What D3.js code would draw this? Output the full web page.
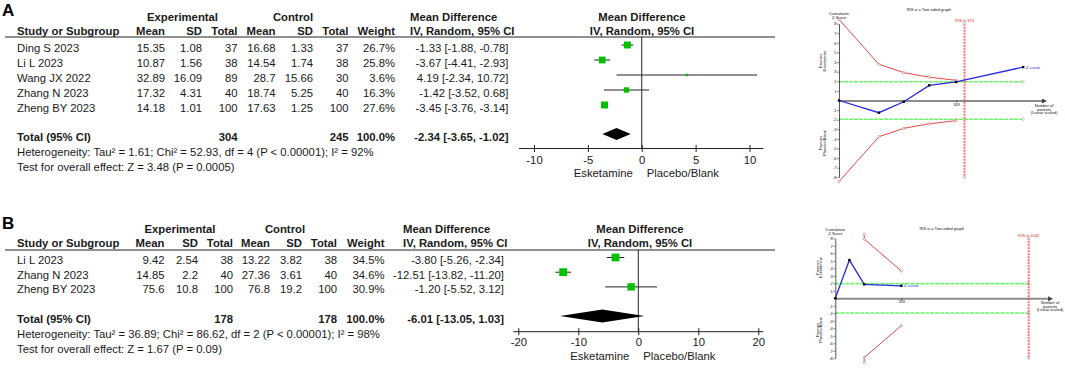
<!DOCTYPE html>
<html>
<head>
<meta charset="utf-8">
<script src="https://cdn.jsdelivr.net/npm/d3@7"></script>
<style>
  body { margin: 0; background: #fff; }
  svg { display: block; font-family: "Liberation Sans", Arial, sans-serif; }
  .forest text { font-size: 11.3px; fill: #1a1a1a; }
  .forest .bold { font-weight: bold; }
  .forest .panel-label { font-size: 17px; fill: #000; }
  .tsa text { font-size: 4px; fill: #111; }
</style>
</head>
<body>
<svg id="chart" width="1065" height="368"></svg>
<script>
// ---------- panel A: forest plot data ----------
const studiesA = ["Ding S 2023", "Li L 2023", "Wang JX 2022", "Zhang N 2023", "Zheng BY 2023"];
const expMeanA = [15.35, 10.87, 32.89, 17.32, 14.18];
const expSdA = [1.08, 1.56, 16.09, 4.31, 1.01];
const expNA = [37, 38, 89, 40, 100];
const ctlMeanA = [16.68, 14.54, 28.7, 18.74, 17.63];
const ctlSdA = [1.33, 1.74, 15.66, 5.25, 1.25];
const ctlNA = [37, 38, 30, 40, 100];
const weightA = [26.7, 25.8, 3.6, 16.3, 27.6];
const mdA = [-1.33, -3.67, 4.19, -1.42, -3.45];
const loA = [-1.88, -4.41, -2.34, -3.52, -3.76];
const hiA = [-0.78, -2.93, 10.72, 0.68, -3.14];
const totalA = [304, 245, 100, -2.34, -3.65, -1.02];
const hetA = "Heterogeneity: Tau² = 1.61; Chi² = 52.93, df = 4 (P < 0.00001); I² = 92%";
const testA = "Test for overall effect: Z = 3.48 (P = 0.0005)";
const ticksA = [-10, -5, 0, 5, 10];

// ---------- panel B: forest plot data ----------
const studiesB = ["Li L 2023", "Zhang N 2023", "Zheng BY 2023"];
const expMeanB = [9.42, 14.85, 75.6];
const expSdB = [2.54, 2.2, 10.8];
const expNB = [38, 40, 100];
const ctlMeanB = [13.22, 27.36, 76.8];
const ctlSdB = [3.82, 3.61, 19.2];
const ctlNB = [38, 40, 100];
const weightB = [34.5, 34.6, 30.9];
const mdB = [-3.80, -12.51, -1.20];
const loB = [-5.26, -13.82, -5.52];
const hiB = [-2.34, -11.20, 3.12];
const totalB = [178, 178, 100, -6.01, -13.05, 1.03];
const hetB = "Heterogeneity: Tau² = 36.89; Chi² = 86.62, df = 2 (P < 0.00001); I² = 98%";
const testB = "Test for overall effect: Z = 1.67 (P = 0.09)";
const ticksB = [-20, -10, 0, 10, 20];

// ---------- trial sequential analysis data ----------
const tsaNA = [0, 119, 193, 269, 349, 549];
const tsaZA = [0, -1.27, -0.13, 1.58, 1.93, 3.48];
const boundNA = [0, 119, 193, 269, 349];
const boundUpA = [8.45, 3.77, 2.9, 2.43, 2.1];
const boundLowA = [-8.45, -3.77, -2.9, -2.43, -2.1];
const risA = 374;
const axisTickA = [349];

const tsaNB = [0, 76, 156, 356];
const tsaZB = [0, 5.1, 1.87, 1.67];
const boundNB = [156, 156, 356];
const boundUpB = [8.53, 7.9, 3.64];
const boundLowB = [-8.53, -7.9, -3.64];
const risB = 1042;
const axisTickB = [356];

const zConventional = 1.96;
const zTicks = [-8, -7, -6, -5, -4, -3, -2, -1, 1, 2, 3, 4, 5, 6, 7, 8];

const locale = d3.formatLocale({decimal: ".", thousands: ",", grouping: [3], currency: ["", ""], minus: "-"});
const f2 = locale.format(".2f");
const f1 = locale.format(".1f");
const fInt = locale.format("d");

class ForestPlot {

  constructor(_config, _data) {
    this.config = _config;
    this.data = _data;
    this.initVis();
  }

  initVis() {
    let vis = this;
    const c = vis.config;

    vis.g = d3.select(c.parentElement).append('g').attr('class', 'forest');

    vis.xScale = d3.scaleLinear()
      .domain(c.xDomain)
      .range(c.xRange);

    // square size follows study weight
    vis.sizeScale = d3.scaleSqrt()
      .domain([0, 100])
      .range([0, 13.3]);

    vis.xAxis = d3.axisBottom(vis.xScale)
      .tickValues(c.ticks)
      .tickFormat(fInt)
      .tickSizeOuter(0);

    vis.rows = vis.data.studies.map((s, i) => ({
      study: s,
      cells: [vis.data.expMean[i], vis.data.expSd[i], vis.data.expN[i],
              vis.data.ctlMean[i], vis.data.ctlSd[i], vis.data.ctlN[i],
              f1(vis.data.weight[i]) + '%'],
      md: vis.data.md[i], lo: vis.data.lo[i], hi: vis.data.hi[i],
      w: vis.data.weight[i],
      y: c.rowY + i * c.rowStep
    }));

    vis.renderVis();
  }

  renderVis() {
    let vis = this;
    const c = vis.config;
    const g = vis.g;
    const x = vis.xScale;

    g.append('text').attr('class', 'panel-label bold')
      .attr('x', 2).attr('y', c.labelY).text(c.label);

    // group headers
    g.append('text').attr('class', 'bold').attr('text-anchor', 'middle')
      .attr('x', c.expX).attr('y', c.groupY).text('Experimental');
    g.append('text').attr('class', 'bold').attr('text-anchor', 'middle')
      .attr('x', c.ctlX).attr('y', c.groupY).text('Control');
    g.append('text').attr('class', 'bold')
      .attr('x', c.mdX).attr('y', c.groupY).text('Mean Difference');
    g.append('text').attr('class', 'bold').attr('text-anchor', 'middle')
      .attr('x', c.plotHeadX).attr('y', c.groupY).text('Mean Difference');

    // column headers
    g.append('text').attr('class', 'bold')
      .attr('x', 17).attr('y', c.headY).text('Study or Subgroup');
    g.selectAll('.col-head')
      .data(['Mean', 'SD', 'Total', 'Mean', 'SD', 'Total', 'Weight'])
      .join('text')
      .attr('class', 'col-head bold')
      .attr('text-anchor', 'end')
      .attr('x', (d, i) => c.cols[i])
      .attr('y', c.headY)
      .text(d => d);
    g.append('text').attr('class', 'bold')
      .attr('x', c.mdX).attr('y', c.headY).text('IV, Random, 95% CI');
    g.append('text').attr('class', 'bold').attr('text-anchor', 'middle')
      .attr('x', c.plotHeadX).attr('y', c.headY).text('IV, Random, 95% CI');

    g.append('line')
      .attr('x1', 5).attr('x2', 775)
      .attr('y1', c.ruleY).attr('y2', c.ruleY)
      .attr('stroke', '#222').attr('stroke-width', 1);

    // study rows
    const row = g.selectAll('.row')
      .data(vis.rows)
      .join('g')
      .attr('class', 'row');

    row.append('text')
      .attr('x', 17).attr('y', d => d.y).text(d => d.study);

    row.selectAll('.cell')
      .data(d => d.cells.map((v, i) => ({v, i, y: d.y})))
      .join('text')
      .attr('class', 'cell')
      .attr('text-anchor', 'end')
      .attr('x', d => c.cols[d.i])
      .attr('y', d => d.y)
      .text(d => d.v);

    row.append('text')
      .attr('text-anchor', 'end')
      .attr('x', c.mdRight).attr('y', d => d.y)
      .text(d => `${f2(d.md)} [${f2(d.lo)}, ${f2(d.hi)}]`);

    // total row
    const t = vis.data.total;
    g.append('text').attr('class', 'bold')
      .attr('x', 17).attr('y', c.totalY).text('Total (95% CI)');
    [[2, t[0]], [5, t[1]], [6, f1(t[2]) + '%']].forEach(([ci, v]) => {
      g.append('text').attr('class', 'bold').attr('text-anchor', 'end')
        .attr('x', c.cols[ci]).attr('y', c.totalY).text(v);
    });
    g.append('text').attr('class', 'bold').attr('text-anchor', 'end')
      .attr('x', c.mdRight).attr('y', c.totalY)
      .text(`${f2(t[3])} [${f2(t[4])}, ${f2(t[5])}]`);

    g.append('text').attr('x', 17).attr('y', c.hetY).text(vis.data.het);
    g.append('text').attr('x', 17).attr('y', c.testY).text(vis.data.test);

    // plot area: zero line
    g.append('line')
      .attr('x1', x(0)).attr('x2', x(0))
      .attr('y1', c.ruleY).attr('y2', c.axisY)
      .attr('stroke', '#222').attr('stroke-width', 1);

    // confidence intervals
    g.selectAll('.ci')
      .data(vis.rows)
      .join('line')
      .attr('class', 'ci')
      .attr('x1', d => x(d.lo)).attr('x2', d => x(d.hi))
      .attr('y1', d => d.y + c.markDy).attr('y2', d => d.y + c.markDy)
      .attr('stroke', '#222').attr('stroke-width', 1);

    g.selectAll('.sq')
      .data(vis.rows)
      .join('rect')
      .attr('class', 'sq')
      .attr('x', d => x(d.md) - vis.sizeScale(d.w) / 2)
      .attr('y', d => d.y + c.markDy - vis.sizeScale(d.w) / 2)
      .attr('width', d => vis.sizeScale(d.w))
      .attr('height', d => vis.sizeScale(d.w))
      .attr('fill', '#00c000');

    // pooled diamond
    const dy = c.totalY + c.markDy;
    const h = c.diamondH / 2;
    g.append('path')
      .attr('d', `M${x(t[4])},${dy}L${x(t[3])},${dy - h}L${x(t[5])},${dy}L${x(t[3])},${dy + h}Z`)
      .attr('fill', '#000');

    // axis
    const axisG = g.append('g')
      .attr('transform', `translate(0,${c.axisY})`)
      .call(vis.xAxis);
    axisG.select('.domain').remove();
    axisG.selectAll('.tick line')
      .attr('y1', -3.5).attr('y2', 3.5).attr('stroke', '#222');
    axisG.selectAll('.tick text')
      .attr('y', c.tickLabelY - c.axisY).attr('dy', 0)
      .style('font-size', '11.3px').style('font-family', 'inherit').attr('fill', '#1a1a1a');
    axisG.append('line')
      .attr('x1', x.range()[0] - c.axisPad[0]).attr('x2', x.range()[1] + c.axisPad[1])
      .attr('stroke', '#222').attr('stroke-width', 1);

    g.append('text').attr('text-anchor', 'end')
      .attr('x', x(0) - 9).attr('y', c.sideY).text('Esketamine');
    g.append('text')
      .attr('x', x(0) + 5).attr('y', c.sideY).text('Placebo/Blank');
  }
}

class TsaGraph {

  constructor(_config, _data) {
    this.config = _config;
    this.data = _data;
    this.initVis();
  }

  initVis() {
    let vis = this;
    const c = vis.config;

    vis.g = d3.select(c.parentElement).append('g').attr('class', 'tsa');

    vis.xScale = d3.scaleLinear()
      .domain([0, c.xMax])
      .range(c.xRange);

    vis.yScale = d3.scaleLinear()
      .domain([-8, 8])
      .range(c.yRange);

    vis.yAxis = d3.axisLeft(vis.yScale)
      .tickValues(zTicks)
      .tickFormat(fInt)
      .tickSize(2)
      .tickSizeOuter(0);

    vis.xAxis = d3.axisBottom(vis.xScale)
      .tickValues(vis.data.axisTick)
      .tickSize(2)
      .tickSizeOuter(0);

    vis.renderVis();
  }

  renderVis() {
    let vis = this;
    const c = vis.config;
    const d = vis.data;
    const g = vis.g;
    const x = vis.xScale, y = vis.yScale;
    const xEnd = x.range()[1];

    g.append('text').attr('text-anchor', 'middle')
      .attr('x', c.titleX).attr('y', c.titleY).text('RIS is a Two-sided graph');
    g.append('text').attr('text-anchor', 'middle')
      .attr('x', x(0)).attr('y', c.cumY).text('Cumulative');
    g.append('text').attr('text-anchor', 'middle')
      .attr('x', x(0)).attr('y', c.cumY + 3.6).text('Z-Score');

    // rotated side labels
    [['Favours', 'Esketamine', c.favUpY], ['Favours', 'Placebo/Blank', c.favLowY]].forEach(([a, b, cy]) => {
      g.append('text').attr('text-anchor', 'middle')
        .attr('transform', `translate(${x(0) - 16.8},${cy}) rotate(-90)`).text(a);
      g.append('text').attr('text-anchor', 'middle')
        .attr('transform', `translate(${x(0) - 13.2},${cy}) rotate(-90)`).text(b);
    });

    // conventional boundaries
    [zConventional, -zConventional].forEach(z => {
      g.append('line')
        .attr('x1', x(0)).attr('x2', x(d.greenEnd))
        .attr('y1', y(z)).attr('y2', y(z))
        .attr('stroke', '#6af56a').attr('stroke-width', 1.6)
        .attr('stroke-dasharray', '4,1');
      g.append('circle')
        .attr('cx', x(d.greenEnd)).attr('cy', y(z)).attr('r', 1.2)
        .attr('fill', '#fff').attr('stroke', '#999').attr('stroke-width', 0.5);
    });

    // x axis (number of patients)
    const xAxisG = g.append('g')
      .attr('transform', `translate(0,${y(0)})`)
      .call(vis.xAxis);
    xAxisG.select('.domain')
      .attr('stroke', '#8c8c8c').attr('stroke-width', 2)
      .attr('marker-end', 'url(#arrow)');
    xAxisG.selectAll('.tick line').attr('stroke', '#111').attr('stroke-width', 0.6);
    xAxisG.selectAll('.tick text')
      .attr('y', 2.2).attr('dy', '0.71em')
      .style('font-size', '4px').style('font-family', 'inherit').attr('fill', '#111');

    g.append('text').attr('text-anchor', 'middle')
      .attr('x', xEnd).attr('y', c.nY).text('Number of');
    g.append('text').attr('text-anchor', 'middle')
      .attr('x', xEnd).attr('y', c.nY + 3.8).text('patients');
    g.append('text').attr('text-anchor', 'middle')
      .attr('x', xEnd).attr('y', c.nY + 7.6).text('(Linear scaled)');

    // y axis
    const yAxisG = g.append('g')
      .attr('transform', `translate(${x(0)},0)`)
      .call(vis.yAxis);
    yAxisG.select('.domain').attr('stroke', '#111').attr('stroke-width', 0.7);
    yAxisG.selectAll('.tick line').attr('stroke', '#111').attr('stroke-width', 0.5);
    yAxisG.selectAll('.tick text')
      .attr('x', -2.6)
      .style('font-size', '4px').style('font-family', 'inherit').attr('fill', '#111');

    // required information size
    g.append('line')
      .attr('x1', x(d.ris)).attr('x2', x(d.ris))
      .attr('y1', y(8)).attr('y2', y(-8))
      .attr('stroke', '#ff4040').attr('stroke-width', 2)
      .attr('stroke-opacity', 0.75)
      .attr('stroke-dasharray', '2,1');
    [8, -8].forEach(z => {
      g.append('circle')
        .attr('cx', x(d.ris)).attr('cy', y(z)).attr('r', 1.2)
        .attr('fill', '#fff').attr('stroke', '#888').attr('stroke-width', 0.5);
    });
    g.append('text').attr('text-anchor', 'middle')
      .attr('x', x(d.ris)).attr('y', c.risY)
      .style('fill', '#e83030').style('font-size', '4.3px')
      .text(`RIS = ${d.ris}`);

    // monitoring boundaries
    const bLine = d3.line().x(p => x(p[0])).y(p => y(p[1]));
    [d.boundUp, d.boundLow].forEach(b => {
      const pts = d.boundN.map((n, i) => [n, b[i]]);
      g.append('path')
        .attr('d', bLine(pts))
        .attr('fill', 'none')
        .attr('stroke', '#ec4646').attr('stroke-width', 1);
      g.selectAll(null)
        .data(pts)
        .join('circle')
        .attr('cx', p => x(p[0])).attr('cy', p => y(p[1])).attr('r', 1.2)
        .attr('fill', '#fff').attr('stroke', '#a06060').attr('stroke-width', 0.5);
    });

    // cumulative Z-curve
    const zPts = d.n.map((n, i) => [n, d.z[i]]);
    g.append('path')
      .attr('d', bLine(zPts))
      .attr('fill', 'none')
      .attr('stroke', '#2a2ad8').attr('stroke-width', 1.3);
    g.selectAll(null)
      .data(zPts)
      .join('rect')
      .attr('x', p => x(p[0]) - 1.2).attr('y', p => y(p[1]) - 1.2)
      .attr('width', 2.4).attr('height', 2.4)
      .attr('fill', '#000');
    const last = zPts[zPts.length - 1];
    g.append('text')
      .attr('x', x(last[0]) + 2.5).attr('y', y(last[1]) + 1.5)
      .style('fill', '#2a2ad8').style('font-size', '4.3px')
      .text('Z-curve');
  }
}

const svg = d3.select('#chart');
svg.append('defs').append('marker')
  .attr('id', 'arrow')
  .attr('viewBox', '0 0 6 6')
  .attr('refX', 3).attr('refY', 3)
  .attr('markerWidth', 2.5).attr('markerHeight', 2.5)
  .attr('orient', 'auto')
  .append('path')
  .attr('d', 'M0,0L6,3L0,6Z')
  .attr('fill', '#444');

new ForestPlot({
  parentElement: '#chart', label: 'A',
  labelY: 15.5, groupY: 20.5, headY: 34.5, ruleY: 37,
  rowY: 52, rowStep: 15, totalY: 141, hetY: 156, testY: 171,
  markDy: -7, diamondH: 12,
  cols: [165, 202, 237.5, 275.5, 313, 348.5, 395],
  expX: 182.5, ctlX: 293, mdX: 410, mdRight: 508.5, plotHeadX: 642,
  xDomain: [-10, 10], xRange: [534, 749.5], ticks: ticksA, axisPad: [15, 14],
  axisY: 148.5, tickLabelY: 164, sideY: 177
}, {
  studies: studiesA, expMean: expMeanA, expSd: expSdA, expN: expNA,
  ctlMean: ctlMeanA, ctlSd: ctlSdA, ctlN: ctlNA, weight: weightA,
  md: mdA, lo: loA, hi: hiA, total: totalA, het: hetA, test: testA
});

new ForestPlot({
  parentElement: '#chart', label: 'B',
  labelY: 229, groupY: 232.5, headY: 246.5, ruleY: 250,
  rowY: 264, rowStep: 14.7, totalY: 322.5, hetY: 338, testY: 353,
  markDy: -6.5, diamondH: 13,
  cols: [164.5, 198, 233, 270, 302, 337, 384.5],
  expX: 180, ctlX: 285, mdX: 403, mdRight: 504, plotHeadX: 640,
  xDomain: [-20, 20], xRange: [518.3, 758.3], ticks: ticksB, axisPad: [5, 5],
  axisY: 331.7, tickLabelY: 346.5, sideY: 360
}, {
  studies: studiesB, expMean: expMeanB, expSd: expSdB, expN: expNB,
  ctlMean: ctlMeanB, ctlSd: ctlSdB, ctlN: ctlNB, weight: weightB,
  md: mdB, lo: loB, hi: hiB, total: totalB, het: hetB, test: testB
});

new TsaGraph({
  parentElement: '#chart',
  xMax: 611, xRange: [839, 1044], yRange: [177.3, 23.7],
  titleX: 929, titleY: 11, cumY: 15, favUpY: 61, favLowY: 143,
  nY: 106.7, risY: 22.3
}, {
  n: tsaNA, z: tsaZA, boundN: boundNA, boundUp: boundUpA, boundLow: boundLowA,
  ris: risA, greenEnd: 549, axisTick: axisTickA
});

new TsaGraph({
  parentElement: '#chart',
  xMax: 1157, xRange: [835.3, 1050], yRange: [358.3, 238.3],
  titleX: 941.7, titleY: 230, cumY: 231.2, favUpY: 267.5, favLowY: 330,
  nY: 303.7, risY: 237.2
}, {
  n: tsaNB, z: tsaZB, boundN: boundNB, boundUp: boundUpB, boundLow: boundLowB,
  ris: risB, greenEnd: risB, axisTick: axisTickB
});
</script>
</body>
</html>
